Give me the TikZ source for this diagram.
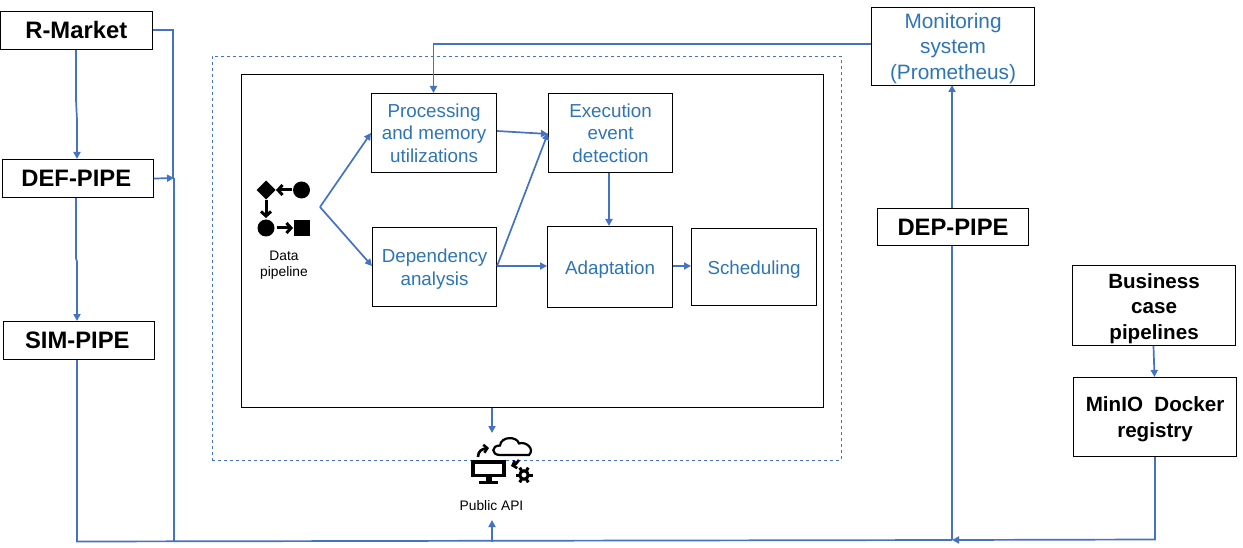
\documentclass[tikz,border=0pt]{standalone}
\usepackage{fontspec}
\setmainfont{Liberation Sans}
\usetikzlibrary{arrows.meta,calc}
\definecolor{linkblue}{HTML}{4472C4}
\definecolor{textblue}{HTML}{2E75B6}
\tikzset{
  x=1pt,y=-1pt,
  boxbase/.style={draw=black,line width=1.1pt,fill=white,inner sep=0pt,align=center,anchor=north west},
  extbox/.style={boxbase,font=\fontsize{23.8}{26}\selectfont\bfseries},
  regbox/.style={boxbase,font=\fontsize{20.6}{25.5}\selectfont\bfseries},
  inbox/.style={boxbase,text=textblue,font=\fontsize{18.8}{22.5}\selectfont},
  monbox/.style={boxbase,text=textblue,font=\fontsize{20.8}{25.5}\selectfont},
  smalltext/.style={font=\fontsize{13.8}{16}\selectfont,align=center,inner sep=0pt},
  link/.style={draw=linkblue,line width=1.7pt},
  arrowlink/.style={link,-{Triangle[length=7pt,width=7pt]}},
  iconline/.style={draw=black,line width=3pt},
  iconarrow/.style={iconline,-{Straight Barb[length=4.5pt,width=10pt]}},
}
\newcommand{\boxat}[7]{\node[#1,minimum width=#4*1pt-#2*1pt,minimum height=#5*1pt-#3*1pt] (#6) at (#2,#3) {#7};}
\newcommand{\dn}[1]{\rule{0pt}{#1pt}}
\begin{document}
\begin{tikzpicture}
\useasboundingbox (0,0) rectangle (1243,548);
\node[draw=linkblue,dashed,line width=0.9pt,inner sep=0pt,anchor=north west,minimum width=629pt,minimum height=404pt] (outer) at (212,56) {};
\boxat{boxbase}{241}{74}{823}{407}{main}{}
\boxat{extbox}{0}{11}{151.5}{49}{rmarket}{\raisebox{1pt}{R-Market}}
\boxat{extbox}{2}{159}{152.5}{197}{defpipe}{DEF-PIPE\hspace{3pt}}
\boxat{extbox}{3}{321}{153.5}{359}{simpipe}{SIM-PIPE\hspace{3pt}}
\boxat{regbox}{1073}{377}{1236}{456}{minio}{\dn{19}MinIO\ \ Docker\\registry}
\boxat{regbox}{1072}{265}{1235}{345}{business}{\dn{21}Business\\case\\pipelines}
\boxat{monbox}{871}{7}{1034}{85}{monitor}{\dn{19}Monitoring\\system\\(Prometheus)}
\boxat{inbox}{371}{93}{496}{172}{proc}{Processing\\and memory\\utilizations}
\boxat{inbox}{548}{93}{672}{172}{exec}{Execution\\event\\detection}
\boxat{inbox}{372}{227}{496}{306}{dep}{\dn{18}Dependency\\analysis}
\boxat{inbox}{547}{226}{672}{307}{adapt}{\dn{18}Adaptation}
\boxat{inbox}{691}{228}{816}{305}{sched}{\dn{18}Scheduling}
\node[smalltext] (datalabel) at (284,265) {Data\\pipeline};
\node[smalltext] (apilabel) at (491.5,505.5) {Public API};
\coordinate (apex) at (320,207);
\coordinate (busL) at (77,541.5);
\coordinate (apiin) at (492,541.5);
\coordinate (busM) at (952,540);
\coordinate (apiicon) at (492,433);
% left side
\draw[arrowlink] (rmarket.south -| 76,0) -- (76,100) -- (77,120) -- (defpipe.north -| 77,0);
\draw[arrowlink] (defpipe.south -| 76,0) -- (76,258) -- (77,262) -- (simpipe.north -| 77,0);
\draw[link] (rmarket.east |- 0,30) -- (173,30) -- (173,178);
\draw[arrowlink] (defpipe.east) -- (174,178);
\draw[link] (174,178) -- (174,541.5);
\draw[link] (simpipe.south -| busL) -- (busL) -- (busM);
\draw[arrowlink] (apiin) -- (492,520);
% right side
\draw[arrowlink] (busM) -- (952,85);
\node[extbox] (deppipe) at (877,208) [minimum width=151pt,minimum height=37pt] {DEP-PIPE};
\draw[arrowlink] (minio.south -| 1155,0) -- (1155,539.5) -- (busM);
\draw[arrowlink] (business.south -| 1153.5,0) -- (minio.north -| 1154.5,0);
\draw[arrowlink] (monitor.west |- 0,44) -- (433.5,44) -- (proc.north -| 433.5,0);
% inner
\draw[arrowlink] (apex) -- (proc.west |- 0,133);
\draw[arrowlink] (apex) -- (dep.west |- 0,266);
\draw[arrowlink] (proc.east |- 0,131) -- (exec.west |- 0,134);
\draw[arrowlink] (dep.east |- 0,266) -- (exec.west |- 0,133);
\draw[arrowlink] (dep.east |- 0,266) -- (adapt.west |- 0,266);
\draw[arrowlink] (exec.south -| 609,0) -- (adapt.north -| 609,0);
\draw[arrowlink] (adapt.east |- 0,266) -- (sched.west |- 0,266);
\draw[arrowlink] (main.south -| 492,0) -- (apiicon);
% data pipeline icon
\fill (266,180.5) -- (275.5,190) -- (266,199.5) -- (256.5,190) -- cycle;
\fill (301.5,190) circle (8.5);
\fill (266,228) circle (8.5);
\fill (293.5,220) rectangle (309.5,236);
\draw[iconarrow] (292,190) -- (276,190);
\draw[iconarrow] (266,200) -- (266,218);
\draw[iconarrow] (277,228) -- (293,228);
% API icon
\draw[black,line width=3.6pt,fill=white] (472.8,461.8) rectangle (504.2,475.5);
\fill (485.5,476) rectangle (491.5,481);
\fill (479,480.5) rectangle (498,483.5);
\draw[black,line width=2.2pt,fill=white] (500,455) .. controls (491,455) and (491,445.5) .. (500,445.5)
  .. controls (501,436) and (517,436) .. (519,443.5)
  .. controls (526,441) and (535,449) .. (529,455) -- cycle;
\draw[black,line width=2.6pt,-{Straight Barb[length=3.5pt,width=8pt]}] (478,457) .. controls (478,451) and (482,449) .. (489,448);
\draw[black,line width=2.6pt,-{Straight Barb[length=3.5pt,width=8pt]}] (519,460) .. controls (518,463) and (514,465) .. (511,466);
\draw[black,line width=3pt] (524,475) circle (4.2);
\foreach \a in {0,60,...,300}{\draw[black,line width=3pt] ($(524,475)+(\a:5)$) -- ($(524,475)+(\a:8.5)$);}
\end{tikzpicture}
\end{document}
